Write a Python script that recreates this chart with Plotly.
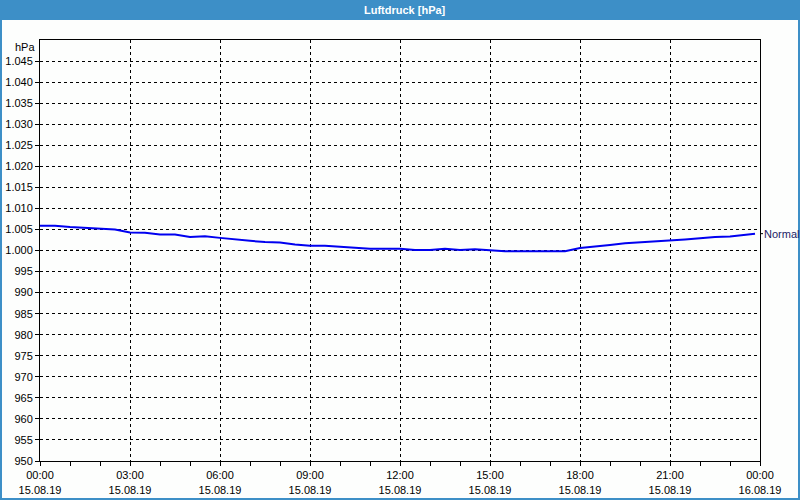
import plotly.graph_objects as go

# ---- data ----
times = [
    "2019-08-15 00:00", "2019-08-15 00:30", "2019-08-15 01:00", "2019-08-15 01:30",
    "2019-08-15 02:00", "2019-08-15 02:30", "2019-08-15 03:00", "2019-08-15 03:30",
    "2019-08-15 04:00", "2019-08-15 04:30", "2019-08-15 05:00", "2019-08-15 05:30",
    "2019-08-15 06:00", "2019-08-15 06:30", "2019-08-15 07:00", "2019-08-15 07:30",
    "2019-08-15 08:00", "2019-08-15 08:30", "2019-08-15 09:00", "2019-08-15 09:30",
    "2019-08-15 10:00", "2019-08-15 10:30", "2019-08-15 11:00", "2019-08-15 11:30",
    "2019-08-15 12:00", "2019-08-15 12:30", "2019-08-15 13:00", "2019-08-15 13:30",
    "2019-08-15 14:00", "2019-08-15 14:30", "2019-08-15 15:00", "2019-08-15 15:30",
    "2019-08-15 16:00", "2019-08-15 16:30", "2019-08-15 17:00", "2019-08-15 17:30",
    "2019-08-15 18:00", "2019-08-15 18:30", "2019-08-15 19:00", "2019-08-15 19:30",
    "2019-08-15 20:00", "2019-08-15 20:30", "2019-08-15 21:00", "2019-08-15 21:30",
    "2019-08-15 22:00", "2019-08-15 22:30", "2019-08-15 23:00", "2019-08-15 23:30",
    "2019-08-15 23:50",
]
pressure = [
    1005.9, 1005.9, 1005.6, 1005.4, 1005.2, 1005.0, 1004.3, 1004.2,
    1003.8, 1003.8, 1003.2, 1003.4, 1003.0, 1002.6, 1002.3, 1002.0,
    1001.9, 1001.4, 1001.1, 1001.1, 1000.9, 1000.7, 1000.4, 1000.4,
    1000.4, 1000.1, 1000.1, 1000.4, 1000.1, 1000.3, 1000.1, 999.8,
    999.8, 999.8, 999.8, 999.8, 1000.6, 1000.9, 1001.3, 1001.7,
    1001.9, 1002.1, 1002.4, 1002.6, 1002.9, 1003.2, 1003.3, 1003.7,
    1004.0,
]
series_name = "Normal"
title_text = "Luftdruck [hPa]"
y_unit = "hPa"

x_tick_vals = [
    "2019-08-15 00:00", "2019-08-15 03:00", "2019-08-15 06:00", "2019-08-15 09:00",
    "2019-08-15 12:00", "2019-08-15 15:00", "2019-08-15 18:00", "2019-08-15 21:00",
    "2019-08-16 00:00",
]
x_tick_text = [
    "00:00<br>15.08.19", "03:00<br>15.08.19", "06:00<br>15.08.19", "09:00<br>15.08.19",
    "12:00<br>15.08.19", "15:00<br>15.08.19", "18:00<br>15.08.19", "21:00<br>15.08.19",
    "00:00<br>16.08.19",
]
y_tick_vals = list(range(950, 1050, 5))
y_tick_text = [f"{v:,}".replace(",", ".") for v in y_tick_vals]

# ---- style ----
FONT = "Liberation Sans, Arial, sans-serif"
BLUE_BAR = "#3d8fc7"
BG = "#fdfefd"

W, H = 800, 500
ML, MR, MT, MB = 40, 40, 40, 39
pw, ph = W - ML - MR, H - MT - MB


def px_x(p):
    return (p - ML) / pw


def px_y(p):
    return 1 - (p - MT) / ph


fig = go.Figure()
fig.add_trace(go.Scatter(
    x=times, y=pressure, mode="lines",
    line=dict(color="#0000f0", width=2),
    name=series_name, showlegend=False, hoverinfo="x+y",
))

fig.update_layout(
    width=W, height=H,
    margin=dict(l=ML, r=MR, t=MT, b=MB, autoexpand=False),
    paper_bgcolor=BG, plot_bgcolor=BG,
    font=dict(family=FONT, size=11, color="black"),
    showlegend=False,
    shapes=[
        # title bar
        dict(type="rect", xref="paper", yref="paper",
             x0=px_x(0), x1=px_x(W), y0=px_y(20), y1=px_y(0),
             fillcolor=BLUE_BAR, line=dict(width=0), layer="below"),
        # outer border
        dict(type="rect", xref="paper", yref="paper",
             x0=px_x(1), x1=px_x(W - 1), y0=px_y(H - 1), y1=px_y(0),
             fillcolor="rgba(0,0,0,0)", line=dict(color=BLUE_BAR, width=2)),
        # tick for series label
        dict(type="line", xref="paper", yref="y",
             x0=px_x(760), x1=px_x(763), y0=pressure[-1], y1=pressure[-1],
             line=dict(color="black", width=1)),
    ],
    annotations=[
        dict(text="<b>" + title_text + "</b>", xref="paper", yref="paper",
             x=px_x(405), y=px_y(10), xanchor="center", yanchor="middle",
             showarrow=False, font=dict(family=FONT, size=11, color="white")),
        dict(text=y_unit, xref="paper", yref="paper",
             x=0, y=1, xanchor="right", yanchor="top", xshift=-3, yshift=1,
             showarrow=False, font=dict(family=FONT, size=11, color="black")),
        dict(text=series_name, xref="paper", yref="y",
             x=1, y=pressure[-1], xanchor="left", yanchor="middle", xshift=2,
             showarrow=False, font=dict(family=FONT, size=11, color="#1c1c66")),
    ],
)

fig.update_xaxes(
    type="date", automargin=False,
    range=["2019-08-15 00:00", "2019-08-16 00:00"],
    tickmode="array", tickvals=x_tick_vals, ticktext=x_tick_text,
    showgrid=True, gridcolor="black", gridwidth=1, griddash="3px,3px",
    showline=True, linecolor="black", linewidth=1, mirror=True,
    ticks="outside", ticklen=4, tickcolor="black",
    minor=dict(dtick=3600000, tick0="2019-08-15 00:00", ticks="outside",
               ticklen=4, tickcolor="black", showgrid=False),
    zeroline=False, fixedrange=True,
)
fig.update_yaxes(
    range=[950, 1050], automargin=False,
    tickmode="array", tickvals=y_tick_vals, ticktext=y_tick_text,
    showgrid=True, gridcolor="black", gridwidth=1, griddash="3px,3px",
    showline=True, linecolor="black", linewidth=1, mirror=True,
    ticks="outside", ticklen=4, tickcolor="black",
    zeroline=False, fixedrange=True,
)

fig.write_html(
    "out.html",
    config={"displayModeBar": False},
    post_script="document.body.style.margin='0px';document.body.style.overflow='hidden';",
)
